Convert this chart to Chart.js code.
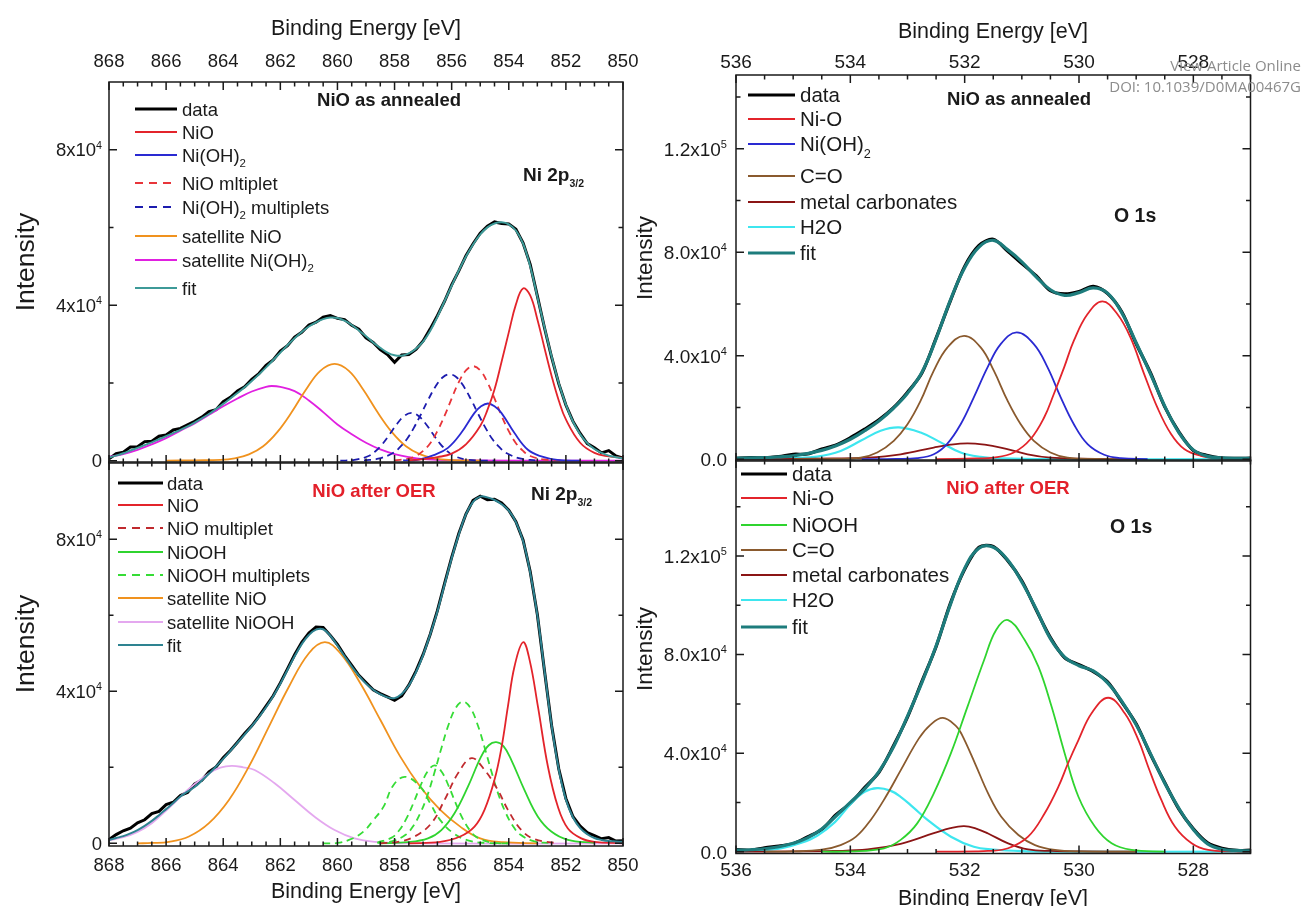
<!DOCTYPE html>
<html>
<head>
<meta charset="utf-8">
<title>Ni 2p / O 1s XPS</title>
<script src="https://cdn.jsdelivr.net/npm/chart.js@4.4.1/dist/chart.umd.min.js"></script>
<style>
  html, body { margin: 0; padding: 0; background: #fff; }
  #wrap { position: relative; width: 1304px; height: 906px; overflow: hidden; }
  #wrap canvas { position: absolute; left: 0; top: 0; }
  .wm { position: absolute; right: 3px; color: #8c8c8c; font-family: "Open Sans", "Noto Sans", sans-serif; font-size: 15px; white-space: nowrap; }
</style>
</head>
<body>
<div id="wrap">
  <canvas id="tl" width="1304" height="906"></canvas>
  <canvas id="bl" width="1304" height="906"></canvas>
  <canvas id="tr" width="1304" height="906"></canvas>
  <canvas id="br" width="1304" height="906"></canvas>
  <div class="wm" style="top:55px">View Article Online</div>
  <div class="wm" style="top:76px">DOI: 10.1039/D0MA00467G</div>
</div>
<script>
// ---------- data (intensity in units of 10^3 counts, energy in eV) ----------

// axis ticks
const niTicksX = [868, 866, 864, 862, 860, 858, 856, 854, 852, 850];
const oTicksX = [536, 534, 532, 530, 528];
const niTicksY = [0, 40, 80];
const niMinorY = [20, 60];
const niTickLabelsY = ['0', '4x10^{4}', '8x10^{4}'];
const oTicksY = [0, 40, 80, 120];
const oMinorY = [20, 60, 100, 140];
const oTickLabelsY = ['0.0', '4.0x10^{4}', '8.0x10^{4}', '1.2x10^{5}'];

// Ni 2p energy grid for measured data and envelope
const niGrid = [868, 867.75, 867.5, 867.25, 867, 866.75, 866.5, 866.25, 866, 865.75, 865.5, 865.25, 865,
  864.75, 864.5, 864.25, 864, 863.75, 863.5, 863.25, 863, 862.75, 862.5, 862.25, 862, 861.75, 861.5,
  861.25, 861, 860.75, 860.5, 860.25, 860, 859.75, 859.5, 859.25, 859, 858.75, 858.5, 858.25, 858,
  857.75, 857.5, 857.25, 857, 856.75, 856.5, 856.25, 856, 855.75, 855.5, 855.25, 855, 854.75, 854.5,
  854.25, 854, 853.75, 853.5, 853.25, 853, 852.75, 852.5, 852.25, 852, 851.75, 851.5, 851.25, 851,
  850.75, 850.5, 850.25, 850];

// NiO as annealed, Ni 2p3/2
const niAnnData = [0.5, 1.8, 2.2, 3.5, 3.6, 4.9, 5.0, 6.3, 6.6, 7.9, 8.3, 9.2, 10.1, 11.2, 12.6, 13.1, 15.2,
  16.3, 17.9, 19.0, 20.9, 22.4, 24.5, 25.9, 28.2, 29.6, 31.8, 33.0, 34.9, 35.6, 36.9, 37.3, 36.6, 36.3,
  34.8, 33.8, 31.6, 30.4, 28.6, 27.3, 25.3, 27.2, 27.3, 28.6, 30.8, 33.9, 37.3, 41.0, 45.2, 48.8, 52.7,
  55.8, 58.5, 60.3, 61.4, 61.0, 60.9, 59.5, 56.0, 50.5, 42.4, 34.2, 26.6, 19.8, 14.3, 10.1, 7.0, 4.4,
  3.3, 2.0, 2.6, 1.2, 0.7];
const niAnnFit = [0.8, 1.3, 1.9, 2.6, 3.3, 4.0, 4.7, 5.5, 6.3, 7.1, 7.9, 8.8, 9.8, 10.9, 12.0, 13.3, 14.6,
  16.0, 17.4, 18.9, 20.5, 22.2, 24.0, 25.9, 27.8, 29.7, 31.5, 33.1, 34.5, 35.6, 36.4, 36.8, 36.7, 36.0,
  34.9, 33.5, 32.0, 30.4, 29.0, 27.8, 27.1, 27.0, 27.6, 28.8, 30.6, 33.4, 37.0, 41.0, 45.0, 48.9, 52.5,
  55.6, 58.2, 60.0, 61.0, 61.3, 60.8, 59.2, 55.8, 50.0, 42.2, 34.3, 26.8, 20.0, 14.4, 10.0, 6.8, 4.5,
  3.0, 2.0, 1.3, 0.9, 0.6];
const niAnnNiO = [[857.5, 0.1], [857, 0.4], [856.5, 0.9], [856, 1.8], [855.5, 4.2], [855, 8.9], [854.75, 13],
  [854.5, 18.3], [854.25, 25.5], [854, 33], [853.75, 40.2], [853.5, 44.3], [853.25, 42.5], [853, 36.4],
  [852.75, 29], [852.5, 21.8], [852.25, 15.5], [852, 10.6], [851.5, 4.6], [851, 2], [850.5, 1.1], [850, 0.7]];
const niAnnNiOH = [[857.7, 0.05], [857.2, 0.2], [856.6, 1.5], [856.13, 3.3], [855.67, 7.1], [855.2, 12.3],
  [854.97, 14.0], [854.73, 14.7], [854.5, 14.0], [854.26, 12.3], [853.8, 7.1], [853.33, 2.8],
  [852.86, 1.1], [852.3, 0.2], [851.5, 0]];
const niAnnNiOMult = [[858, 0.1], [857.5, 0.5], [857.25, 1.2], [857, 2.5], [856.75, 4.5], [856.5, 7.6],
  [856.25, 11.5], [856, 16.0], [855.75, 20.2], [855.5, 23.2], [855.25, 24.3], [855, 23.2], [854.75, 20.2],
  [854.5, 16.0], [854.25, 11.5], [854, 7.6], [853.75, 4.5], [853.5, 2.5], [853.25, 1.2], [852.75, 0.3], [852, 0]];
const niAnnNiOHMultA = [[859.07, 0.1], [858.57, 0.5], [858.07, 1.9], [857.82, 3.4], [857.57, 5.5],
  [857.32, 8.5], [857.07, 12], [856.82, 15.7], [856.57, 19], [856.32, 21.4], [856.07, 22.2], [855.82, 21.4],
  [855.57, 19], [855.32, 15.7], [855.07, 12], [854.82, 8.5], [854.57, 5.5], [854.32, 3.4], [854.07, 1.9],
  [853.57, 0.5], [853.07, 0.1]];
const niAnnNiOHMultB = [[859.9, 0], [859.41, 0.2], [858.91, 1.2], [858.66, 2.5], [858.41, 4.4], [858.16, 6.9],
  [857.91, 9.5], [857.66, 11.5], [857.41, 12.3], [857.16, 11.5], [856.91, 9.5], [856.66, 6.9], [856.41, 4.4],
  [856.16, 2.5], [855.91, 1.2], [855.41, 0.2], [854.5, 0]];
const niAnnSatNiO = [[866, 0], [865, 0.1], [864.1, 0.2], [863.6, 0.6], [863.1, 1.6], [862.6, 3.7], [862.1, 7.4],
  [861.6, 12.5], [861.1, 18.3], [860.6, 23.1], [860.1, 24.9], [859.6, 23.1], [859.1, 18.3], [858.6, 12.5],
  [858.1, 7.4], [857.6, 3.7], [857.1, 1.6], [856.6, 0.6], [856.1, 0.2], [855, 0]];
const niAnnSatNiOH = [[868, 1.0], [867.5, 1.7], [867, 2.8], [866.5, 4.2], [866, 5.8], [865.5, 7.7], [865, 9.6],
  [864.5, 11.8], [864, 14.0], [863.5, 16.0], [863, 17.8], [862.5, 19.0], [862.3, 19.2], [862, 19.0],
  [861.5, 17.9], [861, 15.5], [860.5, 12.5], [860, 9.3], [859.5, 6.8], [859, 4.6], [858.5, 2.9], [858, 1.7],
  [857.5, 0.9], [857, 0.4], [856, 0.1], [850, 0]];

// NiO after OER, Ni 2p3/2
const niOerData = [1.0, 2.3, 3.3, 4.0, 5.4, 6.2, 7.8, 8.4, 10.2, 10.8, 12.6, 13.4, 15.6, 16.6, 18.8, 20.1,
  22.5, 24.4, 26.6, 28.9, 30.9, 33.4, 36.1, 38.8, 42.2, 45.9, 49.6, 52.9, 55.3, 56.9, 56.8, 54.7, 52.3,
  49.4, 46.8, 44.2, 42.3, 40.4, 39.4, 38.5, 37.6, 38.8, 41.6, 45.3, 49.7, 55.0, 61.2, 68.3, 75.2, 81.5,
  86.6, 90.2, 91.3, 90.4, 90.5, 89.5, 87.6, 84.6, 79.8, 71.5, 60.2, 45.4, 31.0, 19.6, 11.8, 7.0, 4.5,
  2.8, 2.0, 1.2, 1.5, 0.6, 0.7];
const niOerFit = [0.9, 1.4, 1.9, 2.6, 3.5, 4.6, 5.9, 7.4, 9.0, 10.6, 12.3, 13.6, 14.8, 16.5, 18.3, 20.2,
  22.2, 24.3, 26.5, 28.6, 30.8, 33.2, 35.8, 38.7, 42.0, 45.6, 49.2, 52.4, 54.8, 56.2, 56.3, 54.6, 52.0,
  49.2, 46.5, 44.1, 42.0, 40.4, 39.2, 38.4, 38.2, 39.3, 41.5, 45.0, 49.5, 55.0, 61.0, 68.0, 75.0, 81.2,
  86.5, 89.8, 91.2, 91.0, 90.3, 89.2, 87.5, 84.5, 79.5, 71.2, 60.0, 45.5, 31.0, 19.5, 11.5, 6.8, 4.0,
  2.4, 1.4, 0.9, 0.6, 0.5, 0.4];
const niOerNiO = [[857.5, 0], [856.4, 0.4], [855.7, 1.8], [855.2, 4.4], [854.85, 8.8], [854.5, 16.7],
  [854.25, 25.4], [854.03, 36], [853.8, 46.5], [853.5, 52.9], [853.27, 48.2], [852.98, 36], [852.63, 20.2],
  [852.28, 9.6], [851.93, 3.9], [851.46, 1.3], [851, 0.4], [850, 0]];
const niOerNiOMult = [[858.5, 0], [857.88, 0.4], [857.3, 1.8], [856.71, 5.3], [856.25, 11.4], [855.78, 18.4],
  [855.3, 22.4], [854.85, 19.3], [854.38, 14], [854.03, 8.8], [853.56, 3.5], [853.1, 1.1], [852.3, 0]];
const niOerNiOOH = [[858.5, 0], [857.53, 0.3], [856.83, 1.3], [856.36, 3.5], [855.9, 7.9], [855.43, 14.9],
  [854.97, 22.8], [854.7, 25.8], [854.44, 26.6], [854.18, 25.5], [853.91, 21.9], [853.45, 14], [852.98, 7],
  [852.51, 3.1], [851.93, 0.9], [851, 0.1]];
const niOerMultA = [[858.6, 0.1], [858.1, 0.5], [857.6, 2.3], [857.35, 4.5], [857.1, 7.9], [856.85, 12.6],
  [856.6, 18.7], [856.35, 25.3], [856.1, 31.4], [855.85, 35.7], [855.6, 37.3], [855.35, 35.7], [855.1, 31.4],
  [854.85, 25.3], [854.6, 18.7], [854.35, 12.6], [854.1, 7.9], [853.85, 4.5], [853.6, 2.3], [853.1, 0.5],
  [852.6, 0.1]];
const niOerMultB = [[858.6, 0.2], [858.1, 1.5], [857.85, 3.3], [857.6, 6.3], [857.35, 10.4], [857.1, 15.0],
  [856.85, 18.8], [856.6, 20.5], [856.35, 18.8], [856.1, 15.0], [855.85, 10.4], [855.6, 6.3], [855.35, 3.3],
  [855.1, 1.5], [854.6, 0.2], [854, 0]];
const niOerMultC = [[860.5, 0], [860, 0.1], [859.5, 1.2], [859.09, 3.1], [858.74, 6.1], [858.39, 9.6],
  [858.04, 15.3], [857.63, 17.5], [857.1, 14.9], [856.75, 10.5], [856.4, 6.1], [855.93, 2.6], [855.4, 0.7],
  [854.8, 0.1], [854, 0]];
const niOerSatNiO = [[867, 0], [866.5, 0.1], [865.9, 0.4], [865.2, 1.8], [864.5, 5.3], [863.8, 11.4],
  [863.1, 20.2], [862.4, 30.7], [861.7, 41.2], [861, 50], [860.44, 52.9], [859.9, 50], [859.2, 42.1],
  [858.5, 32.5], [857.8, 22.8], [857.1, 14.9], [856.4, 8.8], [855.7, 4.4], [855, 1.3], [854.2, 0.3], [853, 0]];
const niOerSatNiOOH = [[868, 0.8], [867.5, 1.6], [867, 3.0], [866.5, 5.3], [866, 8.6], [865.5, 12.2],
  [865.2, 14.4], [864.5, 18.4], [864.1, 19.9], [863.7, 20.4], [863.3, 20.0], [862.9, 19.3], [862.2, 15.8],
  [861.5, 11.4], [860.8, 7], [860.1, 3.5], [859.4, 1.3], [858.7, 0.4], [857.5, 0], [850, 0]];

// O 1s energy grid for measured data and envelope
const oGrid = [536, 535.75, 535.5, 535.25, 535, 534.75, 534.5, 534.25, 534, 533.75, 533.5, 533.25, 533,
  532.75, 532.5, 532.25, 532, 531.75, 531.5, 531.25, 531, 530.75, 530.5, 530.25, 530, 529.75, 529.5,
  529.25, 529, 528.75, 528.5, 528.25, 528, 527.75, 527.5, 527.25, 527];

// NiO as annealed, O 1s
const oAnnData = [0.3, 0.6, 0.5, 1.0, 1.9, 2.0, 3.9, 5.5, 8.3, 11.6, 15.2, 19.8, 25.9, 33.2, 46.8, 61.2,
  74.5, 82.6, 85.0, 80.5, 75.6, 70.9, 65.1, 63.9, 64.8, 66.8, 64.0, 56.9, 44.6, 33.4, 20.2, 10.5, 3.4,
  1.4, 0.4, 0.3, 0.4];
const oAnnFit = [0.4, 0.5, 0.6, 0.9, 1.3, 2.2, 3.4, 5.2, 7.7, 11.0, 14.8, 19.6, 25.5, 33.5, 46.5, 61.5,
  74.0, 82.0, 84.6, 81.0, 76.3, 70.5, 65.5, 63.3, 64.4, 66.2, 64.2, 56.5, 45.0, 33.0, 20.5, 10.2, 3.6,
  1.1, 0.5, 0.3, 0.3];
const oAnnNiO = [[532.5, 0], [531.8, 0.3], [531.49, 0.6], [531.14, 2.6], [530.85, 7.7], [530.61, 16.1],
  [530.44, 25.2], [530.26, 35.5], [530.09, 45.8], [529.85, 56.1], [529.59, 61], [529.33, 56.1], [529.1, 47.1],
  [528.86, 32.9], [528.63, 20], [528.39, 9.7], [528.16, 3.9], [527.87, 1.3], [527.58, 0.4], [527, 0]];
const oAnnNiOH = [[533.8, 0], [533.2, 0.1], [532.83, 0.4], [532.54, 1.9], [532.31, 5.8], [532.07, 13.5],
  [531.84, 23.9], [531.6, 35.5], [531.37, 44.5], [531.09, 49], [530.79, 44.5], [530.55, 35.5], [530.32, 23.9],
  [530.09, 13.5], [529.85, 5.8], [529.56, 1.7], [529.27, 0.4], [528.8, 0]];
const oAnnCO = [[535, 0], [534.3, 0.1], [533.82, 0.6], [533.53, 2.6], [533.24, 7.1], [533, 13.5], [532.77, 22.6],
  [532.54, 34.2], [532.3, 43.2], [532.01, 47.7], [531.72, 43.2], [531.49, 34.2], [531.25, 22.6], [531.02, 13.5],
  [530.79, 7.1], [530.5, 2.6], [530.2, 0.6], [529.7, 0.1], [529, 0]];
const oAnnCarb = [[536, 0], [535, 0.1], [534.3, 0.3], [533.7, 0.6], [533.12, 1.9], [532.54, 4.5], [532.25, 5.6],
  [531.95, 6.1], [531.65, 5.6], [531.37, 4.5], [530.9, 1.9], [530.5, 0.6], [530, 0.2], [529, 0]];
const oAnnH2O = [[536, 0.05], [535.5, 0.2], [534.99, 0.4], [534.58, 1], [534.17, 3.2], [533.82, 7.1],
  [533.47, 11], [533.15, 12.3], [532.77, 10.3], [532.42, 6.5], [532.07, 2.6], [531.72, 0.9], [531.37, 0.3],
  [530.5, 0], [527, 0]];

// NiO after OER, O 1s
const oOerData = [0.9, 0.6, 1.6, 2.3, 3.2, 6.0, 9.0, 15.0, 19.6, 26.0, 32.2, 42.8, 54.6, 69.0, 83.2, 100.8,
  114.6, 123.6, 123.9, 118.2, 110.0, 98.2, 86.9, 78.7, 75.9, 73.1, 68.9, 60.7, 51.9, 39.5, 28.1, 17.2,
  9.3, 3.6, 1.4, 0.5, 0.6];
const oOerFit = [0.6, 0.8, 1.2, 2.0, 3.4, 5.6, 9.2, 14.5, 20.0, 25.5, 32.5, 42.3, 55.0, 68.5, 83.5, 100.3,
  115.0, 123.2, 123.6, 118.5, 109.5, 98.5, 86.5, 79.0, 75.5, 73.4, 68.5, 61.0, 51.5, 39.8, 27.8, 17.5,
  9.0, 3.2, 1.0, 0.5, 0.3];
const oOerNiO = [[532.5, 0], [531.8, 0.1], [531.59, 0.3], [531.24, 1.4], [530.89, 6.1], [530.6, 15.6],
  [530.36, 26.4], [530.19, 36.0], [530.01, 45.3], [529.78, 56.2], [529.49, 62.5], [529.2, 56.2], [528.96, 45.3],
  [528.79, 34.5], [528.56, 21], [528.32, 10.1], [528.03, 3.4], [527.74, 0.7], [527.3, 0.1], [527, 0]];
const oOerNiOOH = [[534.5, 0], [534, 0.1], [533.41, 1.4], [533.12, 4.8], [532.83, 11.5], [532.54, 23.7],
  [532.24, 40], [531.95, 58.9], [531.66, 77.8], [531.45, 90], [531.24, 94], [530.95, 85.9], [530.71, 75.1],
  [530.48, 58.9], [530.25, 39.9], [530.01, 22.3], [529.72, 10.1], [529.43, 3.4], [529.08, 0.7], [528.5, 0]];
const oOerCO = [[535.5, 0], [535, 0.1], [534.5, 0.8], [534.17, 2.7], [533.9, 6.1], [533.64, 13], [533.38, 22.3],
  [533.12, 33], [532.8, 46], [532.6, 51.5], [532.38, 54.3], [532.15, 51], [532.06, 48], [531.82, 35.9],
  [531.59, 23.7], [531.36, 14.2], [531.06, 6.8], [530.77, 2.7], [530.42, 0.7], [530, 0.1], [529, 0]];
const oOerCarb = [[536, 0], [535, 0.1], [534.3, 0.3], [533.7, 0.9], [533.12, 3.2], [532.54, 7.5], [532.25, 9.6],
  [532.01, 10.4], [531.8, 9.4], [531.59, 7.4], [531.24, 3.4], [530.89, 0.9], [530.48, 0.3], [530, 0.1], [529, 0]];
const oOerH2O = [[536, 0.1], [535.6, 0.4], [535.2, 1.4], [534.87, 3.5], [534.58, 6.5], [534.27, 12],
  [533.99, 19.5], [533.75, 24.3], [533.53, 25.8], [533.3, 24.8], [533.12, 22.3], [532.9, 18], [532.65, 12.9],
  [532.24, 6.1], [531.84, 2], [531.5, 0.9], [531, 0.2], [530.5, 0], [527, 0]];

// ---------- drawing ----------
const W = 1304, H = 906;
const FONT = '"Liberation Sans", Arial, Helvetica, sans-serif';
const INK = '#1a1a1a';

const zip = (xs, ys) => xs.map((x, i) => ({ x: x, y: ys[i] }));
const pts = pairs => pairs.map(p => ({ x: p[0], y: p[1] }));

const C = {
  red: '#e3242b', redDash: '#e8353a', darkRedDash: '#c02a2e',
  blue: '#2a2ad2', blueDash: '#1c1cae',
  orange: '#f0921e', magenta: '#e020e0', plum: '#e4a8ef',
  green: '#2fd42f', greenDash: '#36dc36',
  brown: '#8a5a2e', carb: '#8b1515', cyan: '#3ee6ef',
  fitL: '#3d9a98', fitB: '#2e8391', fitR: '#1d7c7c'
};
const DASH = [7, 5];

// draw text with ^{sup} and _{sub} parts; y is the vertical centre of capitals
function drawRich(ctx, str, x, y, size, opt) {
  opt = opt || {};
  const parts = [];
  const re = /([_^])\{([^}]*)\}|([^_^]+)/g;
  let m;
  while ((m = re.exec(str))) {
    if (m[3]) parts.push({ t: m[3], k: 'n' });
    else parts.push({ t: m[2], k: m[1] === '^' ? 'sup' : 'sub' });
  }
  const weight = opt.bold ? 'bold ' : '';
  const small = size * (opt.small || 0.6);
  let w = 0;
  parts.forEach(p => {
    ctx.font = weight + (p.k === 'n' ? size : small) + 'px ' + FONT;
    p.w = ctx.measureText(p.t).width;
    w += p.w;
  });
  let cx = x;
  if (opt.align === 'right') cx = x - w;
  else if (opt.align === 'center') cx = x - w / 2;
  const base = y + size * 0.36;
  ctx.fillStyle = opt.color || INK;
  ctx.textAlign = 'left';
  ctx.textBaseline = 'alphabetic';
  parts.forEach(p => {
    ctx.font = weight + (p.k === 'n' ? size : small) + 'px ' + FONT;
    let by = base;
    if (p.k === 'sup') by = base - size * 0.42;
    if (p.k === 'sub') by = base + size * (opt.subDrop || 0.26);
    ctx.fillText(p.t, cx, by);
    cx += p.w;
  });
}

function decor(p) {
  return {
    id: 'decor_' + p.id,
    afterDraw(chart) {
      const ctx = chart.ctx, a = chart.chartArea;
      const xs = chart.scales.x, ys = chart.scales.y;
      ctx.save();
      // frame and inward ticks
      ctx.strokeStyle = INK;
      ctx.lineWidth = 1.5;
      ctx.setLineDash([]);
      ctx.strokeRect(a.left, a.top, a.right - a.left, a.bottom - a.top);
      ctx.beginPath();
      for (let v = p.xRange[0]; v <= p.xRange[1] + 1e-9; v += 0.5) {
        const px = xs.getPixelForValue(v);
        const len = Math.abs(v % 2) < 1e-9 ? 8 : 4.5;
        ctx.moveTo(px, a.bottom); ctx.lineTo(px, a.bottom - len);
        ctx.moveTo(px, a.top); ctx.lineTo(px, a.top + len);
      }
      p.yTicks.forEach(v => {
        const py = ys.getPixelForValue(v);
        if (py < a.top || py > a.bottom) return;
        ctx.moveTo(a.left, py); ctx.lineTo(a.left + 8, py);
        ctx.moveTo(a.right, py); ctx.lineTo(a.right - 8, py);
      });
      p.yMinor.forEach(v => {
        const py = ys.getPixelForValue(v);
        if (py < a.top || py > a.bottom) return;
        ctx.moveTo(a.left, py); ctx.lineTo(a.left + 4.5, py);
        ctx.moveTo(a.right, py); ctx.lineTo(a.right - 4.5, py);
      });
      ctx.stroke();

      // tick labels
      p.xTicks.forEach(v => {
        drawRich(ctx, String(v), xs.getPixelForValue(v), p.xLabelY, p.tickSize, { align: 'center' });
      });
      p.yTicks.forEach((v, i) => {
        drawRich(ctx, p.yLabels[i], p.yLabelRight, ys.getPixelForValue(v), p.tickSize, { align: 'right', small: 0.58 });
      });

      // axis titles
      drawRich(ctx, 'Binding Energy [eV]', p.xTitle.x, p.xTitle.y, p.xTitle.size, { align: 'center' });
      ctx.save();
      ctx.translate(p.yTitle.x, p.yTitle.y);
      ctx.rotate(-Math.PI / 2);
      drawRich(ctx, 'Intensity', 0, 0, p.yTitle.size, { align: 'center' });
      ctx.restore();

      // annotations
      p.notes.forEach(n => {
        drawRich(ctx, n.text, n.x, n.y, n.size, { align: n.align, bold: true, color: n.color, small: 0.55, subDrop: 0.3 });
      });

      // legend (Origin style, line sample + label)
      const lg = p.legend;
      lg.rows.forEach(r => {
        const s = p.series[r[0]];
        ctx.strokeStyle = s.color;
        ctx.lineWidth = s.legendWidth || s.width;
        ctx.setLineDash(s.dash ? [8, 6] : []);
        ctx.beginPath();
        ctx.moveTo(lg.x0, r[2]);
        ctx.lineTo(lg.x1, r[2]);
        ctx.stroke();
        drawRich(ctx, r[1], lg.tx, r[2], lg.size, { small: 0.62, subDrop: 0.3 });
      });
      ctx.setLineDash([]);
      ctx.restore();
    }
  };
}

const panels = [
  {
    id: 'tl',
    area: { left: 109, top: 82, right: 623, bottom: 463 },
    xRange: [850, 868], yRange: [-0.6, 97.4],
    xTicks: niTicksX, xLabelY: 60, tickSize: 18.5,
    yTicks: niTicksY, yMinor: niMinorY, yLabels: niTickLabelsY, yLabelRight: 102,
    xTitle: { x: 366, y: 27, size: 21.5 },
    yTitle: { x: 24, y: 262, size: 26.5 },
    notes: [
      { text: 'NiO as annealed', x: 389, y: 99, size: 18.5, align: 'center' },
      { text: 'Ni 2p_{3/2}', x: 523, y: 174, size: 19, align: 'left' }
    ],
    series: [
      { label: 'data', data: zip(niGrid, niAnnData), color: '#000', width: 3, tension: 0, order: 3 },
      { label: 'NiO', data: pts(niAnnNiO), color: C.red, width: 1.8, order: 1 },
      { label: 'Ni(OH)2', data: pts(niAnnNiOH), color: C.blue, width: 1.8, order: 1 },
      { label: 'NiO mltiplet', data: pts(niAnnNiOMult), color: C.redDash, width: 1.8, dash: true, order: 1 },
      { label: 'Ni(OH)2 multiplets', data: pts(niAnnNiOHMultA), color: C.blueDash, width: 1.8, dash: true, order: 1 },
      { label: 'Ni(OH)2 multiplets (2)', data: pts(niAnnNiOHMultB), color: C.blueDash, width: 1.8, dash: true, order: 1 },
      { label: 'satellite NiO', data: pts(niAnnSatNiO), color: C.orange, width: 1.8, order: 1 },
      { label: 'satellite Ni(OH)2', data: pts(niAnnSatNiOH), color: C.magenta, width: 1.8, order: 1 },
      { label: 'fit', data: zip(niGrid, niAnnFit), color: C.fitL, width: 2, order: 0 }
    ],
    legend: {
      x0: 135, x1: 177, tx: 182, size: 18.5,
      rows: [[0, 'data', 109], [1, 'NiO', 132], [2, 'Ni(OH)_{2}', 155], [3, 'NiO mltiplet', 183],
             [4, 'Ni(OH)_{2} multiplets', 207], [6, 'satellite NiO', 236], [7, 'satellite Ni(OH)_{2}', 260],
             [8, 'fit', 288]]
    }
  },
  {
    id: 'bl',
    area: { left: 109, top: 462, right: 623, bottom: 846 },
    xRange: [850, 868], yRange: [-0.7, 100.3],
    xTicks: niTicksX, xLabelY: 864, tickSize: 18.5,
    yTicks: niTicksY, yMinor: niMinorY, yLabels: niTickLabelsY, yLabelRight: 102,
    xTitle: { x: 366, y: 890, size: 21.5 },
    yTitle: { x: 24, y: 644, size: 26.5 },
    notes: [
      { text: 'NiO after OER', x: 374, y: 490, size: 18.5, align: 'center', color: '#e3202a' },
      { text: 'Ni 2p_{3/2}', x: 531, y: 493, size: 19, align: 'left' }
    ],
    series: [
      { label: 'data', data: zip(niGrid, niOerData), color: '#000', width: 3, tension: 0, order: 3 },
      { label: 'NiO', data: pts(niOerNiO), color: C.red, width: 1.8, order: 1 },
      { label: 'NiO multiplet', data: pts(niOerNiOMult), color: C.darkRedDash, width: 1.8, dash: true, order: 1 },
      { label: 'NiOOH', data: pts(niOerNiOOH), color: C.green, width: 1.8, order: 1 },
      { label: 'NiOOH multiplets', data: pts(niOerMultA), color: C.greenDash, width: 1.8, dash: true, order: 1 },
      { label: 'NiOOH multiplets (2)', data: pts(niOerMultB), color: C.greenDash, width: 1.8, dash: true, order: 1 },
      { label: 'NiOOH multiplets (3)', data: pts(niOerMultC), color: C.greenDash, width: 1.8, dash: true, order: 1 },
      { label: 'satellite NiO', data: pts(niOerSatNiO), color: C.orange, width: 1.8, order: 1 },
      { label: 'satellite NiOOH', data: pts(niOerSatNiOOH), color: C.plum, width: 1.8, order: 1 },
      { label: 'fit', data: zip(niGrid, niOerFit), color: C.fitB, width: 2, order: 0 }
    ],
    legend: {
      x0: 118, x1: 163, tx: 167, size: 18.5,
      rows: [[0, 'data', 483], [1, 'NiO', 505], [2, 'NiO multiplet', 528], [3, 'NiOOH', 552],
             [4, 'NiOOH multiplets', 575], [7, 'satellite NiO', 598], [8, 'satellite NiOOH', 622],
             [9, 'fit', 645]]
    }
  },
  {
    id: 'tr',
    area: { left: 736, top: 75, right: 1250.5, bottom: 461 },
    xRange: [527, 536], yRange: [-0.7, 148.5],
    xTicks: oTicksX, xLabelY: 61, tickSize: 19,
    yTicks: oTicksY, yMinor: oMinorY, yLabels: oTickLabelsY, yLabelRight: 727,
    xTitle: { x: 993, y: 30, size: 21.5 },
    yTitle: { x: 644, y: 258, size: 22.5 },
    notes: [
      { text: 'NiO as annealed', x: 1019, y: 98, size: 18.5, align: 'center' },
      { text: 'O 1s', x: 1114, y: 215, size: 19.5, align: 'left' }
    ],
    series: [
      { label: 'data', data: zip(oGrid, oAnnData), color: '#000', width: 3.2, tension: 0.3, order: 3 },
      { label: 'Ni-O', data: pts(oAnnNiO), color: C.red, width: 1.8, order: 1 },
      { label: 'Ni(OH)2', data: pts(oAnnNiOH), color: C.blue, width: 1.8, order: 1 },
      { label: 'C=O', data: pts(oAnnCO), color: C.brown, width: 1.8, order: 1 },
      { label: 'metal carbonates', data: pts(oAnnCarb), color: C.carb, width: 1.8, order: 1 },
      { label: 'H2O', data: pts(oAnnH2O), color: C.cyan, width: 2.2, order: 1 },
      { label: 'fit', data: zip(oGrid, oAnnFit), color: C.fitR, width: 3.2, order: 0 }
    ],
    legend: {
      x0: 748, x1: 795, tx: 800, size: 20.5,
      rows: [[0, 'data', 95], [1, 'Ni-O', 119], [2, 'Ni(OH)_{2}', 144], [3, 'C=O', 176],
             [4, 'metal carbonates', 202], [5, 'H2O', 227], [6, 'fit', 253]]
    }
  },
  {
    id: 'br',
    area: { left: 736, top: 460, right: 1250.5, bottom: 853.5 },
    xRange: [527, 536], yRange: [-0.73, 159],
    xTicks: oTicksX, xLabelY: 869, tickSize: 19,
    yTicks: oTicksY, yMinor: oMinorY, yLabels: oTickLabelsY, yLabelRight: 727,
    xTitle: { x: 993, y: 897, size: 21.5 },
    yTitle: { x: 644, y: 649, size: 22.5 },
    notes: [
      { text: 'NiO after OER', x: 1008, y: 487, size: 18.5, align: 'center', color: '#e3202a' },
      { text: 'O 1s', x: 1110, y: 526, size: 19.5, align: 'left' }
    ],
    series: [
      { label: 'data', data: zip(oGrid, oOerData), color: '#000', width: 3.2, tension: 0.3, order: 3 },
      { label: 'Ni-O', data: pts(oOerNiO), color: C.red, width: 1.8, order: 1 },
      { label: 'NiOOH', data: pts(oOerNiOOH), color: C.green, width: 1.8, order: 1 },
      { label: 'C=O', data: pts(oOerCO), color: C.brown, width: 1.8, order: 1 },
      { label: 'metal carbonates', data: pts(oOerCarb), color: C.carb, width: 1.8, order: 1 },
      { label: 'H2O', data: pts(oOerH2O), color: C.cyan, width: 2.2, order: 1 },
      { label: 'fit', data: zip(oGrid, oOerFit), color: C.fitR, width: 3.2, order: 0 }
    ],
    legend: {
      x0: 741, x1: 787, tx: 792, size: 20.5,
      rows: [[0, 'data', 474], [1, 'Ni-O', 498], [2, 'NiOOH', 525], [3, 'C=O', 550],
             [4, 'metal carbonates', 575], [5, 'H2O', 600], [6, 'fit', 627]]
    }
  }
];

function makeChart(p) {
  return new Chart(document.getElementById(p.id), {
    type: 'line',
    data: {
      datasets: p.series.map(s => ({
        label: s.label,
        data: s.data,
        borderColor: s.color,
        borderWidth: s.width,
        borderDash: s.dash ? DASH : [],
        pointRadius: 0,
        fill: false,
        tension: s.tension === undefined ? 0.4 : s.tension,
        order: s.order
      }))
    },
    options: {
      responsive: false,
      animation: false,
      devicePixelRatio: 1,
      events: [],
      layout: {
        padding: { left: p.area.left, top: p.area.top, right: W - p.area.right, bottom: H - p.area.bottom }
      },
      plugins: { legend: { display: false }, tooltip: { enabled: false } },
      scales: {
        x: { type: 'linear', reverse: true, min: p.xRange[0], max: p.xRange[1], display: false },
        y: { type: 'linear', min: p.yRange[0], max: p.yRange[1], display: false }
      }
    },
    plugins: [decor(p)]
  });
}

panels.forEach(makeChart);
</script>
</body>
</html>
